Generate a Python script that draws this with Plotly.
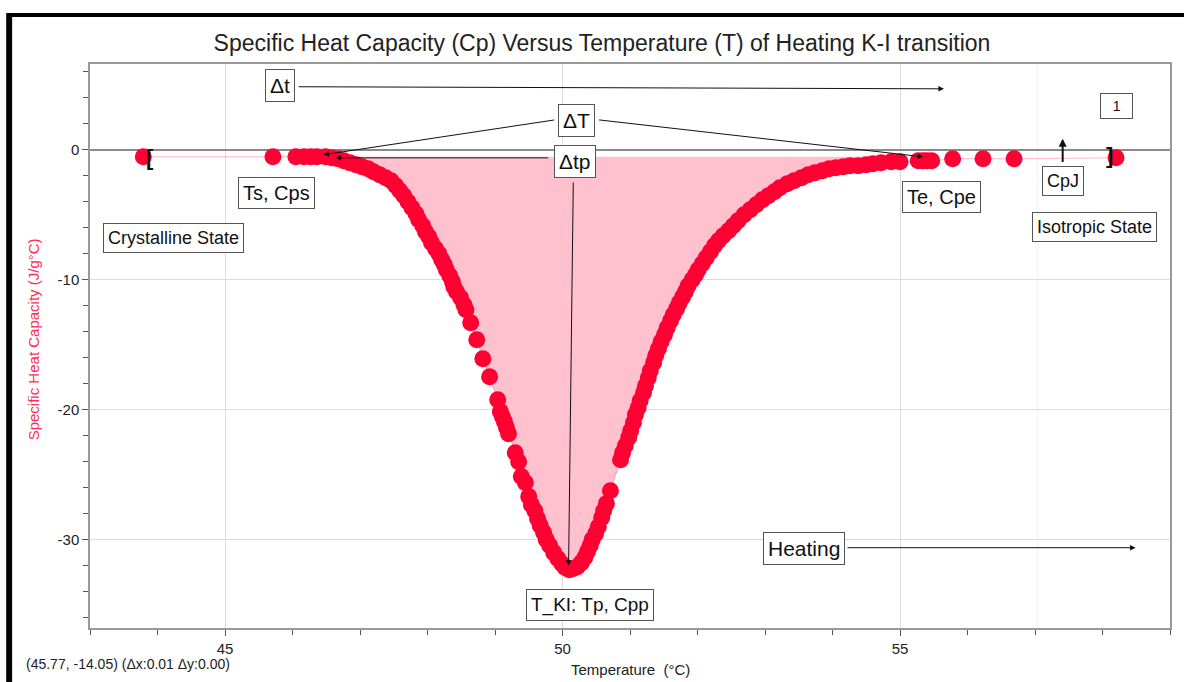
import plotly.graph_objects as go

# ---------------- data ----------------
temperature = [
    43.79, 45.71, 46.05, 46.17, 46.27, 46.36, 46.49, 46.58, 46.67, 46.76,
    46.85, 46.94, 47.03, 47.12, 47.20, 47.29, 47.38, 47.46, 47.53, 47.59,
    47.65, 47.71, 47.77, 47.83, 47.87, 47.93, 47.97, 48.02, 48.06, 48.12,
    48.17, 48.21, 48.25, 48.28, 48.33, 48.37, 48.39, 48.43, 48.49, 48.54,
    48.57, 48.64, 48.73, 48.82, 48.92, 49.04, 49.08, 49.11, 49.14, 49.17,
    49.20, 49.30, 49.35, 49.39, 49.45, 49.50, 49.54, 49.59, 49.63, 49.67,
    49.72, 49.76, 49.81, 49.87, 49.93, 49.99, 50.04, 50.10,
    50.16, 50.22, 50.28, 50.33, 50.37, 50.41, 50.44, 50.49, 50.53, 50.58,
    50.61, 50.65, 50.71, 50.86, 50.89, 50.93, 50.98, 51.01, 51.05, 51.08,
    51.12, 51.15, 51.20, 51.23, 51.27, 51.30, 51.35, 51.38, 51.42, 51.46,
    51.51, 51.55, 51.60, 51.64, 51.69, 51.73, 51.78, 51.82, 51.86, 51.92,
    51.97, 52.01, 52.07, 52.13, 52.19, 52.25, 52.31, 52.38, 52.46, 52.53,
    52.60, 52.69, 52.78, 52.87, 52.96, 53.05, 53.14, 53.22, 53.33, 53.43,
    53.54, 53.64, 53.74, 53.85, 53.95, 54.05, 54.16, 54.26, 54.38, 54.50,
    54.60, 54.72, 54.87, 55.00, 55.27, 55.34, 55.40, 55.47, 55.78, 56.23,
    56.69, 58.20,
]
specific_heat = [
    -0.54, -0.54, -0.54, -0.54, -0.54, -0.54, -0.54, -0.62, -0.69, -0.85,
    -1.00, -1.15, -1.31, -1.46, -1.69, -1.92, -2.15, -2.38, -2.77, -3.15,
    -3.54, -4.00, -4.46, -4.92, -5.38, -5.85, -6.31, -6.69, -7.15, -7.62,
    -8.00, -8.46, -8.85, -9.23, -9.69, -10.15, -10.54, -10.92, -11.38, -11.92,
    -12.31, -13.31, -14.62, -16.08, -17.46, -19.23, -20.15, -20.54, -20.92, -21.38,
    -21.85, -23.31, -24.00, -25.15, -25.62, -26.69, -27.31, -27.77, -28.38, -28.92,
    -29.46, -30.00, -30.46, -31.00, -31.46, -31.85, -32.15, -32.31,
    -32.23, -32.08, -31.77, -31.38, -30.92, -30.46, -30.00, -29.54, -29.00, -28.31,
    -27.77, -27.23, -26.23, -23.85, -23.31, -22.77, -22.15, -21.62, -21.00, -20.38,
    -19.85, -19.31, -18.69, -18.15, -17.54, -17.00, -16.38, -15.85, -15.31, -14.77,
    -14.23, -13.69, -13.15, -12.69, -12.23, -11.77, -11.31, -10.92, -10.46, -10.00,
    -9.62, -9.23, -8.77, -8.31, -7.85, -7.38, -7.00, -6.62, -6.23, -5.85,
    -5.46, -5.00, -4.62, -4.23, -3.85, -3.54, -3.23, -2.92, -2.62, -2.38,
    -2.15, -1.92, -1.77, -1.62, -1.46, -1.38, -1.31, -1.23, -1.23, -1.15,
    -1.08, -1.00, -0.92, -0.92, -0.85, -0.85, -0.85, -0.85, -0.69, -0.69,
    -0.69, -0.62,
]
x_tick_values = [45, 50, 55]
x_tick_labels = ["45", "50", "55"]
y_tick_values = [-30, -20, -10, 0]
y_tick_labels = ["-30", "-20", "-10", "0"]

BASELINE = -0.54
FILL_START, FILL_END = 46.6, 55.0

TITLE = "Specific Heat Capacity (Cp) Versus Temperature (T) of Heating K-I transition"
FONT = "Liberation Sans, Arial, sans-serif"
RED = "#FF0033"

# ---------------- figure ----------------
fill_pairs = [(t, c) for t, c in zip(temperature, specific_heat) if FILL_START <= t <= FILL_END]
fill_x = [FILL_START] + [p[0] for p in fill_pairs] + [FILL_END, FILL_START]
fill_y = [BASELINE] + [p[1] for p in fill_pairs] + [BASELINE, BASELINE]

fig = go.Figure()
fig.add_trace(go.Scatter(
    x=fill_x, y=fill_y, mode="none", fill="toself",
    fillcolor="#FFC1CD", hoverinfo="skip", showlegend=False,
))
fig.add_trace(go.Scatter(
    x=temperature, y=specific_heat, mode="lines+markers",
    line=dict(color="rgba(255,0,51,0.28)", width=1),
    marker=dict(color=RED, size=17, line=dict(width=0)),
    showlegend=False,
))

box = dict(bgcolor="white", bordercolor="#555", borderwidth=1, borderpad=4,
           showarrow=False, xref="x", yref="y")

labels = [
    ("Δt", 45.81, 4.92, 21),
    ("ΔT", 50.21, 2.23, 21),
    ("Δtp", 50.18, -0.92, 21),
    ("Ts, Cps", 45.77, -3.31, 20),
    ("Te, Cpe", 55.62, -3.62, 20),
    ("Crystalline State", 44.23, -6.77, 18),
    ("Isotropic State", 57.88, -5.92, 18),
    ("CpJ", 57.41, -2.38, 18),
    ("\u00a0\u00a01\u00a0\u00a0", 58.20, 3.38, 14),
    ("Heating", 53.58, -30.69, 21),
    ("T_KI: Tp, Cpp", 50.41, -35.0, 19),
]
for text, x, y, size in labels:
    fig.add_annotation(text=text, x=x, y=y, font=dict(family=FONT, color="#111", size=size), **box)

# brackets
for text, x, y in [("[", 43.89, -0.60), ("]", 58.11, -0.45)]:
    fig.add_annotation(text="<b>%s</b>" % text, x=x, y=y, xref="x", yref="y",
                       showarrow=False, font=dict(family=FONT, size=22, color="#111"))

# arrows (tail -> head)
arrows = [
    ((46.07, 4.85), (55.65, 4.69)),
    ((49.90, 2.31), (46.46, -0.38)),
    ((50.52, 2.31), (55.34, -0.54)),
    ((49.81, -0.62), (46.64, -0.62)),
    ((50.16, -2.40), (50.09, -32.0)),
    ((54.20, -30.62), (58.49, -30.62)),
]
for (tx, ty), (hx, hy) in arrows:
    fig.add_annotation(x=hx, y=hy, ax=tx, ay=ty, xref="x", yref="y", axref="x", ayref="y",
                       text="", showarrow=True, arrowhead=2, arrowsize=1.1,
                       arrowwidth=1, arrowcolor="#111", standoff=0, startstandoff=0)
# thicker CpJ arrow
fig.add_annotation(x=57.41, y=0.85, ax=57.41, ay=-1.05, xref="x", yref="y", axref="x", ayref="y",
                   text="", showarrow=True, arrowhead=2, arrowsize=0.8,
                   arrowwidth=2, arrowcolor="#111", standoff=0, startstandoff=0)

# faint vertical marker line
fig.add_shape(type="line", x0=57.04, x1=57.04, y0=0, y1=1, xref="x", yref="paper",
              line=dict(color="rgba(255,0,51,0.08)", width=1), layer="below")

# black frame of the screenshot
fig.add_shape(type="rect", xref="paper", yref="paper", x0=-0.0767, x1=1.02, y0=1.0833, y1=1.0904,
              fillcolor="black", line=dict(width=0))
fig.add_shape(type="rect", xref="paper", yref="paper", x0=-0.0776, x1=-0.0721, y0=-0.2, y1=1.0904,
              fillcolor="black", line=dict(width=0))

# axis titles and status text
fig.add_annotation(text="Specific Heat Capacity (J/g°C)", textangle=-90, xref="paper", yref="paper",
                   x=-0.0527, y=0.512, xanchor="center", yanchor="middle", showarrow=False,
                   font=dict(family=FONT, size=15, color="#FF2D55"))
fig.add_annotation(text="Temperature\u00a0\u00a0(°C)", xref="paper", yref="paper",
                   x=0.5, y=-0.0727, xanchor="center", yanchor="middle", showarrow=False,
                   font=dict(family=FONT, size=15, color="#222"))
fig.add_annotation(text="(45.77, -14.05) (Δx:0.01 Δy:0.00)", xref="paper", yref="paper",
                   x=-0.061, xanchor="left", y=-0.0638, yanchor="middle", showarrow=False,
                   font=dict(family=FONT, size=14, color="#222"))

fig.update_layout(
    width=1184, height=682,
    margin=dict(l=90, r=12, t=64, b=54),
    paper_bgcolor="white", plot_bgcolor="white",
    title=dict(text=TITLE, x=602 / 1184, xref="container", xanchor="center",
               y=1 - 43 / 682, yref="container", yanchor="middle",
               font=dict(family=FONT, size=23, color="#222")),
    font=dict(family=FONT),
    showlegend=False,
)
fig.update_xaxes(
    range=[43, 59], tickmode="array", tickvals=x_tick_values, ticktext=x_tick_labels,
    ticks="outside", ticklen=6, tickcolor="#555", tickfont=dict(size=15, color="#222"),
    showline=True, linecolor="#999", linewidth=1.5, mirror=True,
    showgrid=True, gridcolor="#dcdcdc", gridwidth=1, zeroline=False,
    minor=dict(tickmode="linear", tick0=0, dtick=1, ticks="outside", ticklen=5,
               tickcolor="#555", showgrid=False),
)
fig.update_yaxes(
    range=[-36.8, 6.6], tickmode="array", tickvals=y_tick_values, ticktext=y_tick_labels,
    ticks="outside", ticklen=6, tickcolor="#555", tickfont=dict(size=15, color="#222"),
    showline=True, linecolor="#999", linewidth=1.5, mirror=True,
    showgrid=True, gridcolor="#dcdcdc", gridwidth=1,
    zeroline=True, zerolinecolor="#8a8a8a", zerolinewidth=2,
    minor=dict(tickmode="linear", tick0=0, dtick=2, ticks="outside", ticklen=5,
               tickcolor="#555", showgrid=False),
)

fig.write_html("out.html")
